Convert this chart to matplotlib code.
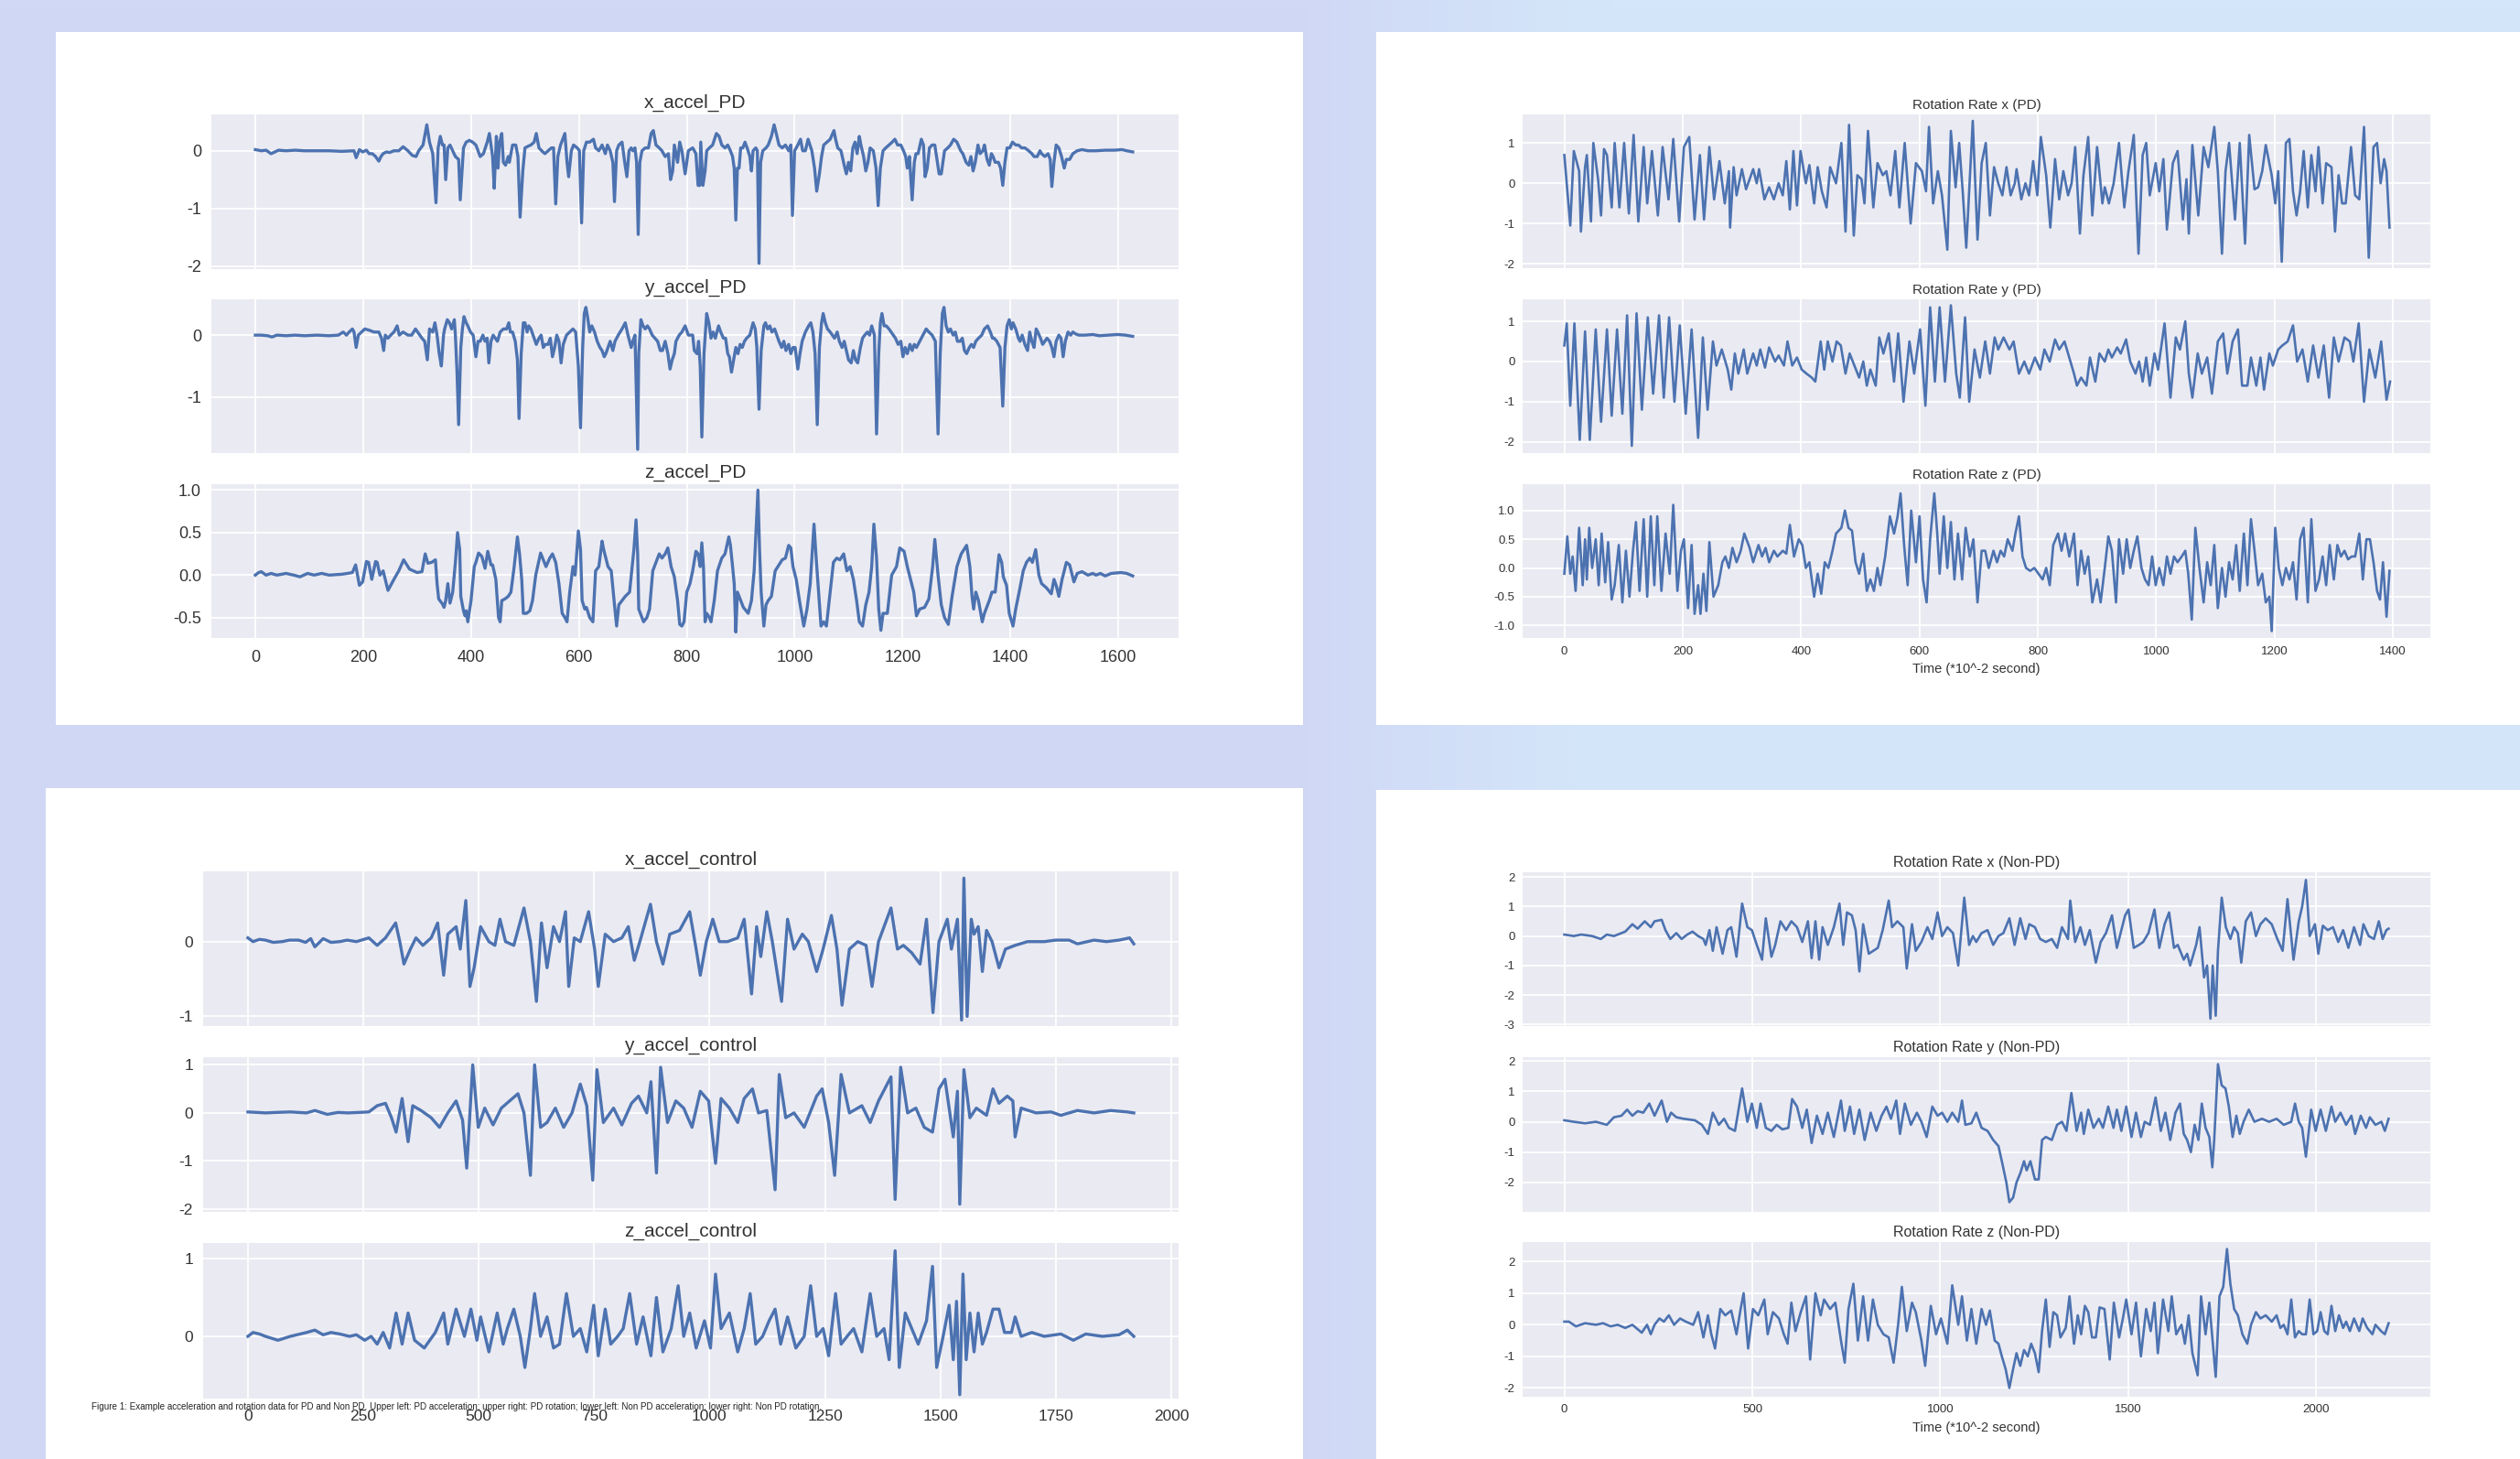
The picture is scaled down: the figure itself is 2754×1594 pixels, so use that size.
import numpy as np
import matplotlib
matplotlib.use("Agg")
import matplotlib.pyplot as plt
from matplotlib.patches import Rectangle
from matplotlib.colors import to_rgb

plt.rcParams['font.family'] = ['Liberation Sans Narrow', 'Liberation Sans', 'DejaVu Sans']
plt.rcParams['axes.unicode_minus'] = False

# ---------------- data (sample index, value) ----------------
X_ACCEL_PD = [(0,.02),(11,0),(20,.01),(29,-.05),(34,-.03),(43,.01),(57,0),(74,.01),(91,0),(114,0),(137,0),(160,-.01),(183,0),(187,-.12),(193,.02),(199,-.02),(206,.01),(211,-.05),(217,-.05),(223,-.1),(229,-.18),(233,-.1),(237,-.05),(243,-.02),(249,-.03),(257,0),(266,0),(274,.07),(283,0),(291,-.08),(298,-.1),(303,0),(311,.1),(318,.45),(323,.15),(329,-.05),(331,-.35),(335,-.9),(339,.05),(343,.25),(347,.1),(350,.1),(353,-.5),(357,.05),(361,.1),(366,0),(371,-.1),(377,-.15),(380,-.85),(383,-.4),(386,.05),(391,.15),(397,.18),(403,.15),(409,.1),(417,-.1),(423,-.05),(430,.15),(434,.3),(437,.1),(440,-.1),(443,-.65),(447,.25),(450,-.3),(453,.15),(457,.3),(460,-.2),(464,-.25),(469,-.1),(471,-.2),(477,.1),(483,.1),(487,-.1),(491,-1.15),(496,-.35),(500,.05),(506,.08),(511,.1),(517,.15),(521,.3),(526,.05),(531,0),(537,-.05),(543,0),(549,.05),(553,.05),(557,-.92),(561,-.1),(566,.1),(570,.2),(574,.3),(578,-.2),(581,-.45),(586,0),(590,.1),(597,.05),(601,0),(605,-1.25),(609,0),(614,.15),(620,.15),(627,.2),(631,.05),(637,0),(643,.1),(649,-.05),(653,.1),(658,0),(663,-.2),(666,-.88),(670,0),(674,.1),(680,.15),(685,-.2),(689,-.45),(693,0),(697,.05),(700,0),(704,.05),(707,-.2),(710,-1.45),(713,-.2),(717,0),(723,.05),(729,.05),(734,.3),(738,.35),(743,.1),(749,.05),(754,0),(760,-.1),(766,-.05),(770,-.5),(774,-.35),(777,.1),(783,-.2),(787,.15),(791,0),(797,-.4),(803,0),(811,.05),(817,-.05),(821,-.6),(824,-.6),(826,.15),(830,-.6),(834,-.35),(837,0),(842,.05),(848,.1),(855,.3),(860,.25),(865,.1),(871,.05),(876,.1),(881,0),(885,-.1),(888,-.3),(891,-1.2),(894,-.3),(897,-.3),(900,.05),(904,.05),(908,.15),(912,.05),(917,-.1),(920,-.35),(923,0),(928,.05),(931,0),(934,-1.95),(937,-.2),(941,0),(947,.05),(951,.1),(957,.25),(962,.45),(966,.3),(971,.1),(977,.05),(983,.1),(989,0),(993,.1),(996,-1.12),(1000,0),(1006,.1),(1011,.2),(1015,0),(1020,0),(1025,.2),(1032,0),(1037,-.3),(1041,-.7),(1046,-.4),(1050,-.1),(1054,.1),(1060,.15),(1066,.2),(1073,.35),(1076,.2),(1080,.05),(1086,0),(1092,-.25),(1096,-.4),(1100,-.2),(1104,-.35),(1108,.05),(1112,.15),(1116,-.05),(1120,.25),(1123,.1),(1128,-.1),(1132,-.35),(1136,-.2),(1140,.05),(1146,0),(1151,-.3),(1155,-.95),(1159,-.3),(1164,0),(1169,.05),(1175,.1),(1181,.15),(1186,.2),(1191,.1),(1197,.1),(1202,0),(1206,-.1),(1209,-.3),(1213,-.1),(1218,-.85),(1222,-.2),(1225,-.05),(1229,-.05),(1235,.2),(1239,.1),(1242,-.45),(1246,-.3),(1250,.05),(1255,.1),(1260,.1),(1264,-.15),(1268,-.4),(1272,-.4),(1278,0),(1284,.05),(1289,.1),(1295,.2),(1301,.15),(1308,0),(1312,-.05),(1318,-.2),(1323,-.25),(1327,-.1),(1331,-.35),(1335,-.2),(1340,.1),(1344,-.05),(1349,0),(1352,.1),(1357,-.15),(1361,-.25),(1365,-.05),(1368,-.1),(1372,-.2),(1378,-.2),(1382,-.3),(1386,-.6),(1390,-.2),(1394,.05),(1399,.05),(1404,.15),(1410,.1),(1415,.1),(1421,.05),(1427,.05),(1434,0),(1440,-.05),(1444,-.1),(1450,-.1),(1455,0),(1458,-.05),(1464,-.1),(1470,-.05),(1474,-.15),(1477,-.62),(1481,-.2),(1485,.1),(1490,.05),(1495,-.1),(1500,-.3),(1504,-.15),(1510,-.15),(1516,-.05),(1524,0),(1533,.02),(1544,0),(1559,0),(1576,.01),(1593,.01),(1607,.02),(1616,0),(1627,-.02)]

Y_ACCEL_PD = [(0,0),(11,0),(23,-.01),(31,-.03),(40,0),(57,-.01),(74,0),(91,-.01),(114,0),(137,-.01),(154,0),(163,.05),(169,0),(174,.05),(180,.1),(183,.05),(187,-.2),(191,0),(197,.05),(203,.1),(211,.08),(220,.05),(229,.05),(234,-.05),(238,-.25),(241,0),(246,-.05),(251,0),(257,.05),(263,.15),(267,0),(274,.05),(283,0),(290,0),(297,.1),(301,.05),(309,-.05),(314,-.1),(319,-.4),(323,.1),(329,.05),(333,.2),(337,0),(341,-.3),(345,-.5),(349,0),(351,.1),(356,.25),(360,.2),(364,.1),(369,.25),(371,0),(374,-.6),(377,-1.45),(381,-.2),(384,.1),(387,.3),(391,.2),(394,.15),(399,.05),(404,0),(409,-.35),(413,-.1),(417,-.1),(422,0),(426,-.1),(430,-.05),(433,-.45),(437,-.1),(441,0),(445,-.05),(449,-.1),(454,.05),(460,.1),(466,.1),(470,.2),(473,.05),(477,.05),(482,-.1),(486,-.4),(489,-1.35),(493,-.3),(497,.2),(500,.2),(504,.05),(507,.15),(511,.1),(517,-.05),(521,-.15),(526,-.05),(530,0),(534,-.2),(538,-.15),(543,-.15),(547,-.05),(551,-.35),(555,-.2),(559,0),(563,-.1),(567,-.45),(571,-.15),(577,0),(583,.05),(589,.1),(594,.05),(599,-.5),(603,-1.5),(607,-.2),(610,.35),(613,.45),(616,.3),(620,.05),(624,.15),(629,.05),(634,-.1),(639,-.2),(643,-.25),(647,-.35),(650,-.3),(654,-.2),(658,-.1),(663,-.25),(667,-.1),(673,0),(680,.1),(686,.2),(691,0),(697,-.2),(700,-.1),(704,0),(709,-1.85),(711,-.3),(715,.25),(719,.15),(723,.1),(727,.15),(731,.1),(736,0),(741,-.05),(746,-.1),(751,-.25),(755,-.25),(760,-.1),(765,-.3),(769,-.55),(773,-.4),(777,-.3),(780,-.1),(786,0),(791,.05),(797,.15),(803,0),(811,0),(814,-.25),(819,-.3),(822,-.1),(825,-.5),(828,-1.65),(832,-.3),(837,.35),(841,.2),(845,-.05),(849,.05),(853,-.05),(859,.15),(863,.05),(868,-.05),(872,-.05),(876,-.3),(879,-.35),(883,-.6),(887,-.4),(891,-.2),(895,-.3),(899,-.15),(903,-.2),(907,-.1),(911,-.05),(917,0),(923,.2),(927,.1),(930,-.2),(934,-1.2),(938,-.25),(943,.15),(946,.2),(950,.1),(954,.15),(958,.05),(963,.1),(967,0),(971,-.1),(976,-.2),(980,-.1),(984,-.25),(989,-.15),(993,-.3),(997,-.2),(1001,-.2),(1006,-.55),(1010,-.3),(1014,-.1),(1020,.05),(1026,.15),(1030,.2),(1034,.05),(1038,-.3),(1042,-1.45),(1046,-.2),(1050,.2),(1053,.35),(1057,.2),(1061,.1),(1066,.05),(1070,0),(1074,-.05),(1079,.05),(1083,-.1),(1088,-.2),(1092,-.1),(1096,-.25),(1100,-.4),(1105,-.45),(1109,-.25),(1113,-.4),(1117,-.45),(1122,-.2),(1126,-.05),(1130,0),(1135,.05),(1139,0),(1143,.15),(1148,0),(1152,-1.6),(1156,-.3),(1159,.2),(1162,.35),(1166,.15),(1170,.15),(1175,.1),(1179,.05),(1183,0),(1187,-.05),(1192,-.15),(1197,-.1),(1201,-.35),(1205,-.2),(1209,-.3),(1214,-.15),(1218,-.25),(1222,-.15),(1226,-.2),(1232,-.1),(1238,0),(1244,.1),(1249,.05),(1255,0),(1261,-.1),(1266,-1.6),(1270,-.3),(1274,.35),(1277,.45),(1281,.15),(1285,.05),(1289,.1),(1294,0),(1298,.05),(1302,-.1),(1307,-.1),(1311,-.05),(1315,-.25),(1319,-.3),(1324,-.2),(1328,-.15),(1332,-.2),(1336,-.1),(1341,-.05),(1347,0),(1352,.1),(1358,.15),(1363,.05),(1367,-.05),(1370,-.05),(1375,-.1),(1381,-.2),(1386,-1.15),(1390,-.2),(1394,.15),(1398,.25),(1402,.1),(1405,.2),(1410,.1),(1415,-.05),(1418,-.1),(1422,0),(1427,-.15),(1432,-.25),(1436,.05),(1440,-.1),(1444,-.2),(1448,.1),(1451,.05),(1456,-.05),(1460,-.15),(1464,-.1),(1468,-.05),(1473,-.1),(1477,-.2),(1481,-.35),(1485,-.1),(1490,0),(1494,-.05),(1498,-.35),(1502,-.1),(1507,.05),(1512,0),(1516,.05),(1521,.02),(1527,0),(1539,0),(1553,.01),(1565,-.01),(1582,0),(1599,.01),(1613,0),(1627,-.02)]

Z_ACCEL_PD = [(0,0),(6,.03),(11,.04),(20,0),(29,.02),(40,0),(57,.02),(71,0),(83,-.02),(97,.02),(109,0),(123,.02),(137,0),(160,.01),(171,.02),(180,.03),(186,.12),(193,-.12),(199,-.08),(206,.16),(210,.15),(216,-.05),(223,.16),(226,.15),(231,0),(237,.05),(246,-.18),(257,-.05),(266,.05),(275,.18),(286,.07),(300,.03),(309,.04),(315,.25),(320,.14),(327,.15),(334,.18),(337,-.1),(340,-.28),(347,-.34),(350,-.38),(353,-.3),(357,-.1),(361,-.33),(366,-.2),(371,.15),(375,.5),(379,.3),(381,-.25),(386,-.42),(389,-.48),(391,-.42),(394,-.55),(400,-.3),(406,.1),(409,.15),(414,.26),(420,.22),(426,.08),(431,.28),(437,.12),(440,.12),(446,-.05),(451,-.5),(454,-.55),(457,-.3),(463,-.28),(469,-.25),(474,-.2),(480,.1),(486,.45),(490,.25),(494,-.05),(497,-.45),(503,-.45),(509,-.42),(514,-.3),(520,0),(529,.26),(534,.18),(539,.1),(546,.2),(551,.25),(557,.15),(563,-.1),(569,-.45),(574,-.5),(578,-.55),(583,-.2),(589,.1),(593,0),(599,.52),(603,.3),(606,-.3),(611,-.4),(614,-.38),(620,-.5),(626,-.55),(631,.05),(637,.1),(643,.4),(646,.3),(650,.2),(654,.1),(660,.05),(666,-.35),(670,-.6),(674,-.35),(680,-.3),(686,-.25),(694,-.2),(702,.3),(706,.65),(709,.25),(711,-.4),(717,-.5),(720,-.55),(726,-.5),(731,-.4),(737,.05),(743,.15),(749,.25),(754,.2),(760,.25),(765,.32),(771,.1),(777,-.02),(783,-.3),(787,-.58),(791,-.6),(795,-.55),(800,-.2),(806,-.1),(811,.05),(817,.28),(821,.25),(825,.1),(828,.38),(831,.1),(834,-.55),(837,-.45),(842,-.5),(845,-.55),(851,-.3),(857,.05),(865,.2),(871,.25),(878,.45),(881,.35),(885,.1),(888,-.1),(891,-.67),(894,-.2),(900,-.3),(905,-.38),(914,-.45),(920,-.3),(925,.05),(932,1.0),(935,.3),(938,-.2),(943,-.6),(947,-.35),(951,-.3),(957,-.25),(964,.05),(971,.12),(977,.18),(983,.2),(989,.35),(993,.32),(997,.1),(1003,-.05),(1009,-.3),(1017,-.6),(1023,-.4),(1029,-.1),(1036,.6),(1040,.2),(1044,-.15),(1049,-.6),(1054,-.55),(1059,-.6),(1066,-.2),(1072,.15),(1078,.2),(1084,.18),(1091,.25),(1097,.05),(1103,.1),(1109,-.05),(1115,-.3),(1120,-.55),(1126,-.6),(1132,-.35),(1138,-.2),(1143,.1),(1147,.6),(1152,.2),(1156,-.4),(1160,-.65),(1164,-.45),(1172,-.45),(1180,0),(1189,.1),(1195,.32),(1203,.28),(1209,.1),(1215,-.05),(1221,-.2),(1226,-.48),(1232,-.4),(1241,-.38),(1249,-.28),(1256,.1),(1260,.42),(1266,0),(1272,-.35),(1278,-.5),(1285,-.58),(1292,-.25),(1301,.1),(1309,.25),(1319,.35),(1325,.1),(1329,-.25),(1332,-.4),(1336,-.2),(1341,-.3),(1348,-.55),(1352,-.45),(1361,-.3),(1366,-.2),(1372,-.2),(1379,.24),(1384,.15),(1387,-.02),(1393,-.12),(1398,-.45),(1405,-.6),(1410,-.4),(1418,-.15),(1424,.05),(1430,.15),(1436,.2),(1441,.15),(1447,.3),(1453,0),(1458,-.1),(1467,-.15),(1476,-.22),(1481,-.05),(1485,-.12),(1490,-.25),(1496,-.05),(1504,.15),(1510,.12),(1518,-.08),(1524,.02),(1533,.04),(1544,0),(1553,.02),(1559,0),(1567,.02),(1576,-.01),(1587,.02),(1605,.03),(1616,.02),(1627,-.01)]

ROT_X_PD = [(0,.7),(10,-1.05),(16,.8),(25,.3),(28,-1.2),(35,.4),(38,.7),(45,-.95),(49,1.0),(57,.1),(62,-.8),(67,.85),(72,.7),(80,-.6),(85,1.0),(93,-.6),(101,1.0),(109,-.75),(117,1.2),(125,-.95),(134,.9),(140,-.5),(148,.8),(158,-.8),(166,.9),(176,-.4),(184,1.1),(194,-.95),(202,.9),(211,1.15),(220,-.9),(229,.7),(236,-.9),(245,.9),(253,-.4),(262,.55),(271,-.5),(278,.3),(280,-1.1),(286,.4),(291,-.3),(300,.35),(307,-.15),(319,.35),(325,0),(329,.35),(338,-.4),(346,-.1),(354,-.4),(362,0),(369,-.3),(375,.55),(381,-.65),(387,.8),(393,-.55),(399,.8),(408,0),(414,.45),(422,-.5),(428,.4),(435,-.2),(443,-.6),(449,.4),(459,0),(468,1.0),(475,-1.2),(481,1.45),(489,-1.3),(495,.2),(502,.1),(507,-.5),(513,1.3),(522,-.6),(529,.5),(538,.2),(544,.3),(551,-.3),(559,.8),(566,-.6),(575,1.0),(585,-1.0),(594,.5),(604,.3),(611,-.2),(616,1.4),(623,-.5),(631,.3),(638,-.3),(647,-1.65),(653,1.3),(661,-.1),(667,1.0),(673,-.2),(679,-1.6),(685,.1),(690,1.55),(698,-1.4),(705,.5),(712,1.0),(719,-.8),(726,.4),(733,0),(740,-.3),(747,.4),(754,-.3),(761,0),(764,.35),(772,-.4),(779,0),(785,-.3),(792,.55),(799,-.3),(805,1.15),(814,.2),(821,-1.1),(829,.6),(836,-.4),(843,.3),(851,-.3),(857,0),(863,.9),(871,-1.25),(877,.2),(885,1.15),(892,-.8),(900,.9),(909,-.5),(913,-.1),(920,-.5),(928,0),(937,1.0),(946,-.6),(953,.3),(962,1.2),(970,-1.75),(977,.7),(983,1.0),(989,-.3),(999,.5),(1005,-.2),(1012,.6),(1018,-1.15),(1028,.5),(1036,.8),(1045,-.9),(1051,.1),(1055,-1.25),(1061,.95),(1071,-.8),(1080,.9),(1088,.4),(1098,1.4),(1104,.3),(1111,-1.75),(1117,.3),(1123,1.0),(1133,-.9),(1141,1.0),(1150,-1.5),(1157,1.2),(1166,-.15),(1172,-.1),(1179,.3),(1185,.95),(1195,.2),(1201,-.5),(1206,.3),(1212,-1.95),(1219,1.0),(1225,1.1),(1231,-.2),(1237,-.8),(1243,-.2),(1249,.8),(1256,-.6),(1262,.7),(1269,-.2),(1274,.9),(1281,-.5),(1287,.5),(1296,.4),(1302,-1.2),(1308,.2),(1314,-.5),(1320,-.5),(1329,.9),(1336,-.3),(1343,-.4),(1351,1.4),(1359,-1.85),(1367,.9),(1373,1.0),(1379,0),(1385,.6),(1389,.3),(1394,-1.1)]

ROT_Y_PD = [(0,.4),(4,.95),(10,-1.1),(17,.95),(26,-1.95),(35,.75),(43,-1.95),(53,.8),(62,-1.5),(72,.8),(80,-1.35),(89,.8),(98,-1.3),(106,1.15),(114,-2.1),(122,1.2),(131,-1.2),(141,1.1),(150,-.8),(160,1.15),(168,-.9),(177,1.1),(186,-1.0),(195,.9),(205,-1.3),(215,.8),(226,-1.9),(234,.6),(242,-1.2),(251,.5),(257,-.1),(266,.3),(276,-.2),(282,-.7),(288,.2),(294,-.3),(303,.3),(309,-.3),(319,.2),(325,-.1),(331,.3),(339,-.15),(346,.35),(356,0),(362,.15),(371,-.1),(377,.5),(385,-.1),(393,.1),(401,-.2),(409,-.3),(418,-.4),(424,-.5),(433,.5),(439,-.2),(445,.5),(453,0),(460,.5),(467,.4),(475,-.3),(482,.2),(490,-.1),(498,-.4),(505,0),(511,-.6),(517,-.2),(526,-.6),(532,.6),(539,.2),(548,.7),(557,-.5),(564,.7),(573,-1.0),(583,.5),(591,-.3),(601,.8),(610,-1.1),(618,1.35),(626,-.5),(634,1.35),(643,-.5),(653,1.4),(662,-.3),(668,-.9),(677,1.1),(684,-1.0),(693,.3),(702,-.4),(711,.5),(719,-.3),(727,.6),(733,.3),(742,.6),(752,.3),(759,.5),(768,-.3),(777,0),(785,-.3),(795,.1),(804,-.2),(811,.3),(820,0),(829,.55),(836,.3),(845,.5),(853,.1),(861,-.3),(866,-.6),(873,-.4),(882,-.6),(888,.1),(897,-.5),(904,.2),(913,0),(919,.3),(925,.1),(934,.35),(940,.2),(949,.55),(956,0),(965,-.3),(971,0),(977,-.5),(983,.1),(989,-.6),(997,.2),(1003,-.2),(1014,.95),(1024,-.9),(1033,.6),(1040,.3),(1049,1.0),(1055,-.3),(1061,-.9),(1070,.2),(1077,-.3),(1086,.1),(1094,-.8),(1104,.5),(1113,.7),(1120,-.3),(1129,.5),(1138,.8),(1145,-.6),(1154,-.6),(1160,.1),(1169,-.6),(1176,.1),(1182,-.7),(1191,.2),(1197,-.1),(1206,.3),(1213,.4),(1222,.5),(1231,.9),(1238,0),(1247,.3),(1256,-.5),(1265,.4),(1274,-.4),(1283,.4),(1292,-.9),(1300,.6),(1308,0),(1318,.6),(1327,.5),(1333,0),(1342,.95),(1351,-1.0),(1360,.3),(1370,-.4),(1380,.5),(1389,-.95),(1395,-.5)]

ROT_Z_PD = [(0,-.1),(5,.55),(10,-.1),(14,.2),(19,-.4),(25,.7),(31,-.3),(35,.5),(38,-.2),(42,.7),(47,0),(53,.5),(58,-.3),(63,.6),(69,-.25),(74,.45),(80,-.55),(85,-.3),(92,.4),(98,-.6),(104,.3),(110,-.5),(116,.3),(121,.8),(127,-.4),(134,.85),(140,-.5),(146,.9),(152,-.3),(157,.9),(164,-.4),(171,.6),(178,-.1),(184,1.1),(191,-.4),(197,.3),(202,.5),(209,-.7),(215,.4),(220,-.8),(226,-.3),(230,-.8),(235,-.1),(240,-.75),(245,.45),(252,-.5),(260,-.3),(267,.1),(272,.2),(278,0),(284,.35),(291,.1),(298,.3),(304,.6),(313,.35),(319,.1),(328,.4),(334,.2),(340,.35),(346,.1),(354,.3),(360,.2),(369,.3),(375,.25),(381,.75),(388,.2),(396,.5),(402,.4),(408,0),(414,.1),(422,-.5),(428,-.1),(434,-.45),(440,.1),(446,0),(453,.3),(459,.6),(468,.7),(474,1.0),(480,.7),(486,.65),(492,.1),(498,-.1),(505,.25),(511,-.4),(517,-.2),(523,-.4),(529,0),(534,-.3),(542,.2),(550,.9),(557,.6),(563,.9),(568,1.3),(574,.4),(580,-.3),(586,1.0),(594,.1),(600,.9),(606,-.2),(612,-.6),(618,.5),(625,1.3),(630,.6),(634,-.1),(641,.9),(647,0),(653,.8),(659,-.2),(665,.6),(672,-.2),(678,.7),(685,.2),(691,.5),(698,-.6),(705,.3),(711,.3),(717,0),(725,.3),(731,.1),(737,.3),(743,.2),(749,.5),(757,.3),(762,.6),(768,.9),(774,.2),(780,0),(787,-.05),(794,0),(801,-.1),(808,-.2),(814,0),(820,-.3),(826,.4),(834,.6),(840,.3),(846,.6),(853,.2),(861,.6),(867,-.3),(873,.3),(879,-.1),(885,.2),(892,-.6),(900,-.2),(906,-.6),(913,0),(919,.55),(925,.3),(932,-.6),(937,.5),(944,-.1),(950,.5),(956,0),(962,.3),(968,.55),(975,0),(981,-.2),(987,-.3),(993,.2),(999,-.3),(1005,0),(1012,-.3),(1018,.2),(1024,-.1),(1030,.2),(1036,.1),(1043,.2),(1049,.3),(1054,-.1),(1060,-.9),(1066,.7),(1073,0),(1080,-.6),(1086,.1),(1092,-.3),(1098,.4),(1104,-.7),(1111,0),(1117,-.5),(1123,.1),(1129,-.2),(1135,.4),(1141,-.4),(1148,.6),(1154,-.3),(1160,.85),(1166,.3),(1172,-.3),(1179,-.1),(1185,-.6),(1191,-.5),(1195,-1.1),(1201,.7),(1207,0),(1213,-.3),(1219,0),(1225,-.2),(1231,.1),(1237,-.55),(1243,.5),(1249,.7),(1256,-.6),(1262,.85),(1269,-.4),(1275,-.2),(1281,.2),(1287,-.3),(1293,.4),(1300,-.2),(1306,.4),(1312,.2),(1318,.3),(1324,.15),(1330,.2),(1336,.2),(1343,.6),(1349,-.2),(1355,.5),(1361,.5),(1367,.1),(1373,-.4),(1378,-.55),(1383,.1),(1389,-.85),(1394,-.05)]

X_ACCEL_CTRL = [(0,.05),(11,0),(25,.03),(38,.02),(55,-.01),(74,0),(90,.02),(110,.02),(125,-.01),(136,.04),(145,-.07),(163,.04),(180,-.01),(199,0),(215,.02),(235,0),(262,.05),(280,-.05),(298,.05),(320,.25),(329,0),(338,-.3),(352,-.1),(364,.05),(379,-.05),(397,.05),(411,.25),(424,-.45),(433,.1),(451,.2),(460,-.1),(472,.55),(481,-.6),(490,-.35),(504,.2),(522,0),(535,-.05),(546,.3),(558,0),(576,-.05),(598,.45),(612,0),(625,-.8),(636,.25),(648,-.35),(662,.2),(675,0),(688,.4),(695,-.6),(707,.05),(720,0),(738,.4),(751,-.1),(759,-.6),(774,.1),(792,0),(810,.05),(824,.2),(837,-.25),(849,0),(872,.5),(885,0),(899,-.3),(914,.1),(935,.15),(957,.4),(971,-.1),(980,-.45),(993,0),(1007,.3),(1021,0),(1039,0),(1061,.05),(1075,.3),(1091,-.7),(1102,.2),(1111,-.2),(1124,.4),(1136,0),(1156,-.8),(1169,.3),(1183,-.1),(1201,.1),(1214,0),(1232,-.4),(1246,-.1),(1264,.35),(1276,-.1),(1287,-.85),(1303,-.1),(1321,0),(1339,-.05),(1352,-.6),(1366,0),(1393,.45),(1407,-.1),(1420,-.05),(1438,-.15),(1456,-.3),(1470,.3),(1484,-.95),(1497,0),(1515,.3),(1524,-.1),(1537,.3),(1546,-1.05),(1551,.85),(1558,-1.0),(1567,.3),(1573,.1),(1582,.2),(1591,-.4),(1600,.15),(1612,0),(1627,-.35),(1641,-.1),(1662,-.05),(1689,0),(1725,0),(1750,.02),(1779,.02),(1797,-.03),(1833,.02),(1860,0),(1887,.02),(1910,.05),(1919,-.03)]

Y_ACCEL_CTRL = [(0,.02),(20,.01),(38,0),(60,.01),(92,.02),(127,0),(145,.05),(172,-.03),(195,.01),(217,0),(240,.01),(262,.02),(280,.15),(298,.2),(311,-.1),(321,-.4),(334,.3),(347,-.6),(357,.15),(375,.05),(397,-.1),(415,-.3),(433,0),(451,.25),(465,-.15),(474,-1.15),(487,1.0),(499,-.3),(513,.1),(531,-.25),(549,.1),(567,.25),(585,.4),(598,0),(612,-1.3),(621,1.0),(634,-.3),(648,-.2),(666,.1),(684,-.3),(702,0),(720,.6),(734,.15),(747,-1.4),(756,.9),(770,-.2),(792,.1),(810,-.25),(831,.2),(846,.35),(864,0),(873,.65),(885,-1.25),(894,.95),(909,-.2),(927,.25),(944,.1),(962,-.3),(980,.45),(998,.25),(1013,-1.05),(1025,.3),(1043,.1),(1061,-.2),(1075,.3),(1093,.5),(1106,0),(1124,.05),(1142,-1.6),(1151,.8),(1165,-.1),(1183,0),(1205,-.3),(1232,.35),(1244,.5),(1258,-.2),(1271,-1.3),(1285,.8),(1303,0),(1330,.15),(1348,-.2),(1366,.25),(1393,.75),(1402,-1.8),(1414,.95),(1429,0),(1447,.1),(1465,-.3),(1483,-.4),(1497,.5),(1510,.7),(1519,.1),(1528,-.5),(1537,.45),(1542,-1.9),(1551,.9),(1564,-.1),(1578,.1),(1600,-.05),(1614,.5),(1627,.2),(1645,.35),(1657,.25),(1662,-.5),(1675,.1),(1707,0),(1740,.02),(1761,-.05),(1797,.05),(1833,0),(1869,.05),(1905,.02),(1919,0)]

Z_ACCEL_CTRL = [(0,0),(11,.05),(25,.03),(38,0),(65,-.05),(92,0),(127,.05),(145,.08),(163,.02),(180,.05),(199,.03),(220,0),(235,.02),(253,-.05),(267,0),(280,-.1),(293,.05),(307,-.15),(321,.3),(334,-.1),(347,.3),(361,-.05),(382,-.15),(406,.05),(424,.3),(433,-.1),(451,.35),(469,0),(483,.35),(496,-.05),(504,.25),(522,-.2),(540,.3),(553,-.1),(562,.1),(576,.35),(590,0),(600,-.4),(612,.1),(621,.55),(634,0),(648,.25),(662,-.15),(675,-.1),(690,.55),(705,0),(720,.1),(734,-.2),(749,.4),(759,-.25),(774,.35),(786,-.1),(801,0),(813,.1),(827,.55),(842,-.1),(856,.25),(873,-.25),(885,.5),(899,-.2),(917,.1),(932,.65),(944,0),(957,.3),(971,-.15),(989,.2),(1002,-.15),(1013,.8),(1025,.1),(1043,.3),(1061,-.2),(1075,.1),(1088,.55),(1100,-.1),(1115,0),(1129,.2),(1142,.35),(1154,-.1),(1169,.25),(1187,-.15),(1205,0),(1219,.65),(1232,0),(1246,.1),(1258,-.25),(1273,.55),(1285,-.1),(1298,0),(1312,.1),(1330,-.2),(1348,.55),(1362,0),(1378,.1),(1389,-.3),(1402,1.1),(1411,-.4),(1424,.3),(1438,.1),(1452,-.1),(1470,.2),(1483,.9),(1492,-.4),(1506,0),(1519,.4),(1528,-.3),(1535,.45),(1542,-.75),(1549,.8),(1556,-.3),(1564,.3),(1573,-.2),(1582,.3),(1591,-.1),(1600,.05),(1614,.35),(1627,.35),(1639,.05),(1654,.05),(1662,.25),(1675,0),(1698,.05),(1725,0),(1761,.03),(1788,-.05),(1815,.03),(1851,0),(1887,.02),(1905,.08),(1919,0)]

ROT_X_NPD = [(0,.05),(25,0),(45,.05),(74,0),(97,-.1),(113,.05),(132,0),(162,.15),(181,.4),(195,.25),(214,.5),(230,.3),(240,.5),(259,.55),(269,.2),(282,-.1),(298,.1),(312,-.1),(327,.05),(341,.15),(356,0),(370,-.1),(376,-.3),(386,.2),(395,-.5),(405,.3),(421,-.6),(434,.2),(444,.3),(458,-.7),(473,1.1),(487,.3),(499,.2),(512,-.3),(526,-.8),(536,.6),(551,-.7),(561,-.3),(575,.5),(590,.2),(604,.5),(619,.3),(633,-.2),(648,.5),(658,-.75),(668,.5),(678,-.8),(687,.3),(701,-.3),(717,.3),(732,1.1),(742,-.3),(752,.8),(765,.7),(775,.2),(785,-1.2),(795,.4),(810,-.6),(822,-.5),(834,-.4),(847,.2),(863,1.2),(872,.3),(886,.5),(902,.3),(911,-1.1),(925,.4),(935,-.5),(950,-.2),(966,.3),(979,-.1),(993,.8),(1005,0),(1019,.3),(1034,.1),(1048,-1.0),(1064,1.3),(1077,-.3),(1087,0),(1096,-.2),(1110,.1),(1126,.2),(1141,-.3),(1155,0),(1168,.1),(1184,.6),(1198,-.3),(1213,.6),(1227,-.1),(1237,.4),(1252,.3),(1266,-.1),(1281,-.2),(1297,-.1),(1311,-.4),(1324,.3),(1340,-.1),(1346,1.2),(1359,-.2),(1373,.3),(1385,-.3),(1398,.2),(1414,-.9),(1427,-.2),(1441,.1),(1457,.7),(1470,-.4),(1482,.2),(1492,.7),(1501,.9),(1515,-.4),(1529,-.3),(1540,-.2),(1554,.1),(1570,.9),(1583,-.4),(1597,.4),(1609,.8),(1622,-.4),(1632,-.3),(1648,-.8),(1657,-.6),(1665,-1.0),(1681,-.3),(1690,.3),(1702,-1.4),(1710,-1.0),(1719,-2.8),(1725,-1.0),(1733,-2.7),(1739,-.5),(1749,1.3),(1760,.3),(1772,-.1),(1782,.3),(1792,.1),(1801,-.9),(1813,.5),(1827,.8),(1840,0),(1852,.4),(1866,.6),(1882,.4),(1897,-.1),(1911,-.5),(1924,1.25),(1940,-.8),(1954,.5),(1963,1.0),(1973,1.9),(1983,0),(1997,.4),(2006,-.6),(2018,.35),(2031,.2),(2045,.3),(2059,-.2),(2072,.2),(2086,-.4),(2101,.3),(2117,-.3),(2126,.4),(2140,0),(2154,-.1),(2167,.5),(2177,-.1),(2187,.2),(2193,.25)]

ROT_Y_NPD = [(0,.05),(25,0),(55,-.05),(84,0),(113,-.1),(132,.15),(152,.2),(167,.4),(181,.2),(195,.35),(210,.3),(226,.6),(240,.2),(259,.7),(273,0),(284,.3),(298,.15),(317,.1),(347,.05),(366,-.1),(382,-.4),(395,.3),(411,-.1),(425,.1),(438,-.2),(454,-.3),(473,1.1),(487,0),(499,.6),(512,-.2),(522,.6),(536,-.2),(551,-.3),(565,-.1),(580,-.25),(596,-.2),(606,.75),(619,.5),(633,-.2),(645,.4),(658,-.7),(672,.2),(687,-.4),(701,.3),(717,-.5),(736,.7),(746,-.3),(760,.5),(771,-.4),(785,.4),(799,-.6),(815,.3),(830,-.3),(844,.2),(857,.5),(869,.1),(883,.7),(893,-.4),(906,.6),(922,-.1),(938,.3),(950,0),(964,-.5),(979,.5),(993,.2),(1005,.3),(1019,0),(1032,.3),(1048,0),(1058,.7),(1067,-.1),(1083,-.05),(1096,.3),(1110,-.2),(1126,-.3),(1141,-.6),(1155,-.8),(1164,-1.3),(1176,-2.0),(1184,-2.65),(1194,-2.5),(1203,-2.0),(1213,-1.7),(1223,-1.3),(1230,-1.6),(1240,-1.3),(1252,-1.9),(1262,-1.9),(1271,-.6),(1281,-.5),(1297,-.6),(1311,-.1),(1324,0),(1336,-.3),(1349,.95),(1363,-.3),(1375,.3),(1382,-.4),(1394,.4),(1408,-.2),(1422,.1),(1433,-.2),(1447,.5),(1461,-.2),(1470,.4),(1482,-.3),(1495,.5),(1509,-.5),(1521,.3),(1534,-.5),(1544,0),(1558,-.1),(1573,.8),(1587,-.3),(1599,.3),(1612,-.6),(1626,.3),(1638,.6),(1648,-.4),(1657,-.6),(1667,-1.0),(1677,-.1),(1687,-.6),(1696,.6),(1706,-.2),(1716,-.5),(1724,-1.5),(1729,-.6),(1739,1.9),(1749,1.2),(1759,1.1),(1768,.5),(1778,-.5),(1788,.2),(1797,-.4),(1807,0),(1821,.4),(1836,0),(1856,.1),(1875,0),(1895,.1),(1914,-.1),(1934,0),(1944,.6),(1954,0),(1963,-.2),(1973,-1.15),(1987,.4),(1999,-.3),(2012,.4),(2026,-.3),(2041,.5),(2051,0),(2065,.3),(2080,-.1),(2094,.2),(2104,-.4),(2119,.2),(2133,-.2),(2143,.15),(2158,-.1),(2174,0),(2183,-.3),(2193,.1)]

ROT_Z_NPD = [(0,.1),(12,.1),(31,-.05),(55,.05),(84,0),(103,.05),(123,-.05),(142,0),(162,-.1),(181,0),(191,-.1),(206,-.25),(220,0),(230,-.3),(240,0),(253,.2),(265,.1),(278,.3),(292,0),(308,.2),(323,.1),(343,0),(356,.4),(370,-.4),(382,.3),(391,-.3),(401,-.75),(415,.5),(428,.3),(444,.45),(458,-.3),(469,.5),(477,1.0),(489,-.75),(502,.5),(516,.3),(532,.8),(541,-.3),(555,.4),(571,.2),(584,-.3),(594,-.6),(604,.7),(615,-.2),(629,.4),(643,.9),(654,-1.1),(668,1.0),(682,.3),(691,.8),(707,.5),(721,.7),(736,-.5),(746,-1.2),(756,.5),(769,1.3),(781,-.5),(795,.9),(808,-.5),(821,.8),(834,0),(849,-.3),(863,-.4),(876,-1.2),(888,0),(898,1.2),(911,-.2),(925,.7),(935,.4),(950,-.5),(960,-1.3),(975,.6),(989,-.3),(1002,.2),(1019,-.6),(1032,1.25),(1048,0),(1058,.9),(1071,-.5),(1083,.5),(1096,-.6),(1110,.5),(1122,0),(1132,.45),(1145,-.5),(1155,-.6),(1164,-1.0),(1174,-1.4),(1184,-2.0),(1194,-1.4),(1203,-.9),(1213,-1.3),(1223,-.8),(1233,-1.0),(1242,-.6),(1252,-.9),(1262,-1.5),(1271,-.2),(1281,.8),(1291,-.7),(1301,.4),(1311,.3),(1320,-.4),(1334,-.1),(1344,.9),(1356,-.6),(1366,.3),(1375,-.3),(1385,.6),(1394,.4),(1404,-.4),(1414,-.4),(1424,.55),(1437,.5),(1451,-1.1),(1462,.7),(1476,-.4),(1486,.2),(1495,.8),(1509,-.3),(1521,.7),(1534,-1.0),(1548,.5),(1560,-.2),(1570,.7),(1579,-.9),(1593,.8),(1607,-.2),(1616,.9),(1628,-.3),(1642,0),(1651,-.6),(1661,.3),(1671,-.9),(1685,-1.6),(1694,.9),(1706,-.3),(1716,.7),(1724,-.4),(1733,-1.65),(1743,.9),(1753,1.2),(1763,2.4),(1772,1.3),(1782,.5),(1792,.3),(1804,-.3),(1817,-.6),(1827,0),(1840,.4),(1852,.2),(1866,.3),(1882,.1),(1895,.3),(1905,-.1),(1914,0),(1924,-.3),(1934,.8),(1944,-.4),(1954,-.2),(1963,-.3),(1973,-.3),(1983,.8),(1993,-.3),(2003,-.2),(2012,.4),(2022,-.2),(2031,-.3),(2041,.6),(2051,-.2),(2061,.3),(2072,-.1),(2080,.1),(2090,-.2),(2101,.2),(2115,-.2),(2124,.2),(2136,-.1),(2150,-.3),(2158,0),(2173,-.2),(2183,-.3),(2193,.05)]

TITLES_TL = ["x_accel_PD", "y_accel_PD", "z_accel_PD"]
TITLES_TR = ["Rotation Rate x (PD)", "Rotation Rate y (PD)", "Rotation Rate z (PD)"]
TITLES_BL = ["x_accel_control", "y_accel_control", "z_accel_control"]
TITLES_BR = ["Rotation Rate x (Non-PD)", "Rotation Rate y (Non-PD)", "Rotation Rate z (Non-PD)"]
XLABEL_ROT = "Time (*10^-2 second)"
CAPTION = ("Figure 1: Example acceleration and rotation data for PD and Non PD. Upper left: PD acceleration; "
           "upper right: PD rotation; lower left: Non PD acceleration; lower right: Non PD rotation.")

YTICKS_TL = [[-2, -1, 0], [-1, 0], [-0.5, 0.0, 0.5, 1.0]]
YTICKS_TR = [[-2, -1, 0, 1], [-2, -1, 0, 1], [-1.0, -0.5, 0.0, 0.5, 1.0]]
YTICKS_BL = [[-1, 0], [-2, -1, 0, 1], [0, 1]]
YTICKS_BR = [[-3, -2, -1, 0, 1, 2], [-2, -1, 0, 1, 2], [-2, -1, 0, 1, 2]]
XTICKS_TL = list(range(0, 1601, 200))
XTICKS_TR = list(range(0, 1401, 200))
XTICKS_BL = list(range(0, 2001, 250))
XTICKS_BR = list(range(0, 2001, 500))

# ---------------- figure ----------------
W, H = 2754, 1594
fig = plt.figure(figsize=(W / 100, H / 100), dpi=100)

# background gradient
bg = fig.add_axes([0, 0, 1, 1], zorder=-10)
bg.set_axis_off()
c_left = np.array(to_rgb('#d0d8f5'))
c_right = np.array(to_rgb('#d4e7fa'))
xs = np.linspace(0, 1, 400)
t = np.clip((xs - 0.52) / 0.12, 0, 1)[None, :, None]
ys = np.linspace(0, 1, 200)[:, None, None]
grad = c_left * (1 - t) + c_right * t
grad = grad * (1 - 0.02 * ys) + 0.02 * ys * np.array(to_rgb('#cfd6f3'))
bg.imshow(grad, aspect='auto', extent=[0, 1, 0, 1], origin='upper')
bg.set_xlim(0, 1); bg.set_ylim(0, 1)

def fig_rect(l, t_, r, b, **kw):
    fig.patches.append(Rectangle((l / W, 1 - b / H), (r - l) / W, (b - t_) / H,
                                 transform=fig.transFigure, **kw))

fig_rect(61, 35, 1424, 792, facecolor='white', edgecolor='none', zorder=-5)
fig_rect(1504, 35, 2754, 792, facecolor='white', edgecolor='none', zorder=-5)
fig_rect(50, 861, 1424, 1594, facecolor='white', edgecolor='none', zorder=-5)
fig_rect(1504, 863, 2754, 1594, facecolor='white', edgecolor='none', zorder=-5)

LINE_C = '#4C72B0'
FACE_C = '#EAEAF2'
TXT_C = '#333333'

def add_ax(l, t_, r, b):
    return fig.add_axes([l / W, 1 - b / H, (r - l) / W, (b - t_) / H])

def style(ax, fs_tick, pad_x, pad_y):
    ax.set_facecolor(FACE_C)
    for s in ax.spines.values():
        s.set_visible(False)
    ax.grid(True, color='white', linewidth=1.3)
    ax.set_axisbelow(True)
    ax.tick_params(length=0, labelsize=fs_tick, colors=TXT_C)
    ax.tick_params(axis='x', pad=pad_x)
    ax.tick_params(axis='y', pad=pad_y)

def panel(series, titles, rows, lr, xlim, ylims, yticks, xticks, fmts, fs_tick, fs_title,
          lw, pad_x, pad_y, title_pad, xlabel=None, xlabel_fs=11):
    for i, (data, ttl, (t_, b), yl, yt, fmt) in enumerate(zip(series, titles, rows, ylims, yticks, fmts)):
        ax = add_ax(lr[0], t_, lr[1], b)
        style(ax, fs_tick, pad_x, pad_y)
        x, y = zip(*data)
        ax.plot(x, y, color=LINE_C, linewidth=lw, solid_joinstyle='round')
        ax.set_xlim(*xlim)
        ax.set_ylim(*yl)
        ax.set_yticks(yt)
        ax.set_yticklabels([fmt % v for v in yt])
        ax.set_xticks(xticks)
        ax.set_title(ttl, fontsize=fs_title, color=TXT_C, pad=title_pad)
        if i < 2:
            ax.tick_params(axis='x', labelbottom=False)
        else:
            ax.set_xticklabels([str(v) for v in xticks])
            if xlabel:
                ax.set_xlabel(xlabel, fontsize=xlabel_fs, color=TXT_C, labelpad=4.5)

# top-left: PD acceleration
panel([X_ACCEL_PD, Y_ACCEL_PD, Z_ACCEL_PD], TITLES_TL,
      [(125, 294), (327, 495), (529, 697)], (231, 1288), (-81.5, 1712),
      [(-2.05, 0.63), (-1.91, 0.58), (-0.74, 1.07)], YTICKS_TL, XTICKS_TL,
      ["%d", "%d", "%.1f"], 13, 15, 2.4, 9, 8, 5)

# top-right: PD rotation
panel([ROT_X_PD, ROT_Y_PD, ROT_Z_PD], TITLES_TR,
      [(125, 293), (327, 495), (529, 697)], (1664, 2656), (-70.5, 1463),
      [(-2.11, 1.71), (-2.28, 1.55), (-1.22, 1.46)], YTICKS_TR, XTICKS_TR,
      ["%d", "%d", "%.1f"], 9.5, 11, 1.9, 6.5, 6, 4, xlabel=XLABEL_ROT, xlabel_fs=10.5)

# bottom-left: control acceleration
panel([X_ACCEL_CTRL, Y_ACCEL_CTRL, Z_ACCEL_CTRL], TITLES_BL,
      [(952, 1121), (1155, 1324), (1358, 1528)], (222, 1288), (-97, 2016),
      [(-1.13, 0.94), (-2.06, 1.16), (-0.80, 1.20)], YTICKS_BL, XTICKS_BL,
      ["%d", "%d", "%d"], 12.5, 15, 2.4, 8.5, 8, 5)

# bottom-right: Non-PD rotation
panel([ROT_X_NPD, ROT_Y_NPD, ROT_Z_NPD], TITLES_BR,
      [(953, 1121), (1155, 1324), (1357, 1526)], (1664, 2656), (-111, 2304),
      [(-3.05, 2.16), (-2.97, 2.13), (-2.28, 2.62)], YTICKS_BR, XTICKS_BR,
      ["%d", "%d", "%d"], 9.5, 11.5, 1.9, 6, 6, 4, xlabel=XLABEL_ROT, xlabel_fs=10.5)

fig.text(100 / W, 1 - 1536.5 / H, CAPTION, fontsize=7.1, color='#222222',
         ha='left', va='center')

fig.savefig('out.png', dpi=100)
